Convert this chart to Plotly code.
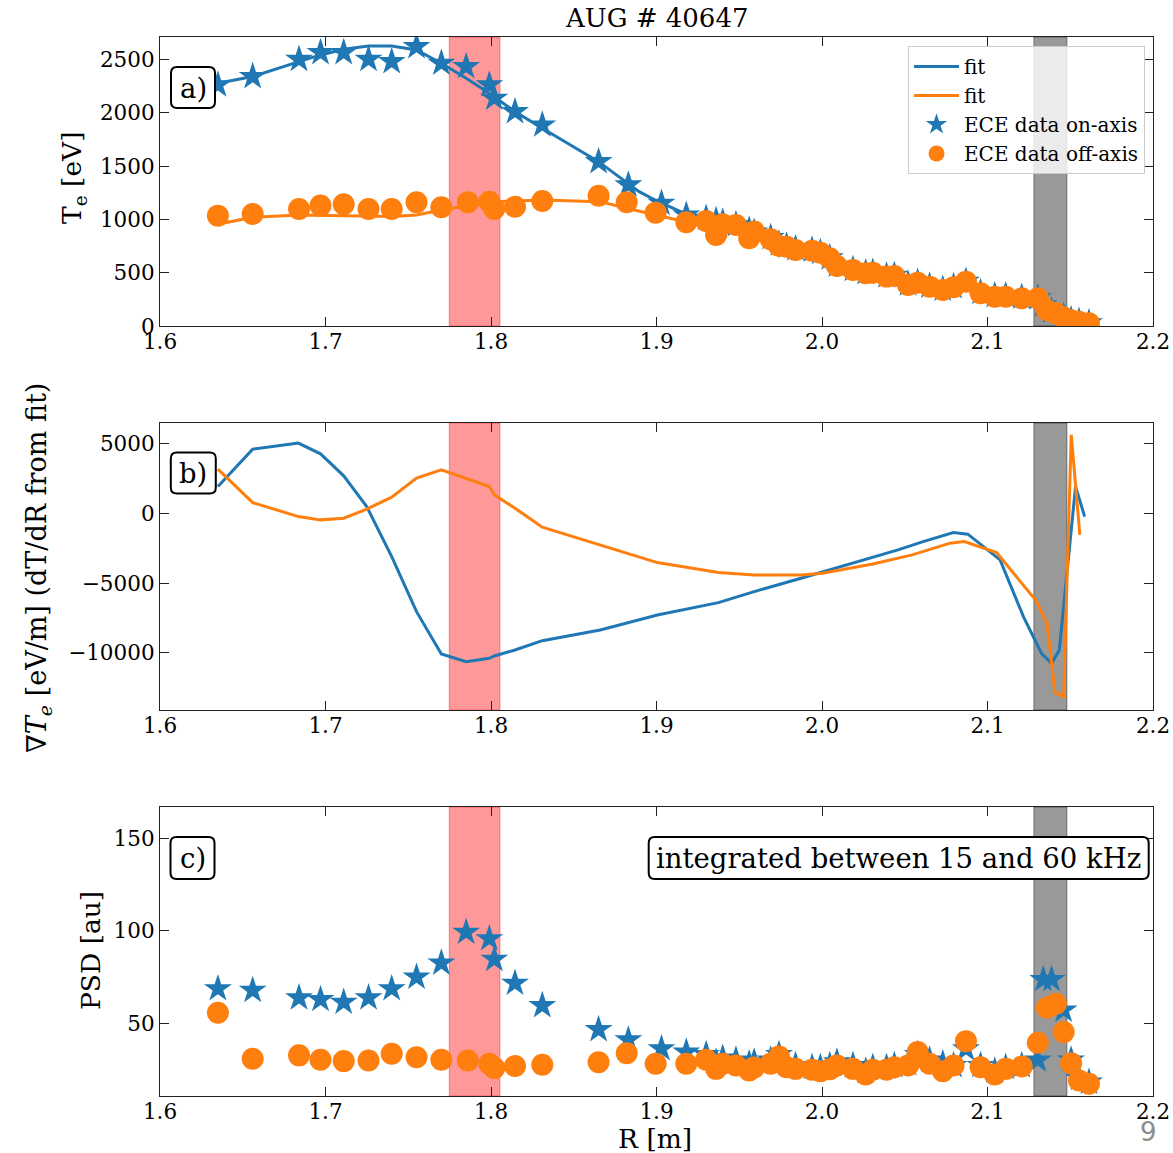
import plotly.graph_objects as go

# ---------------- data ----------------
# ECE on-axis channels (blue stars): R [m], Te [eV], PSD [au]
R_on = [1.635, 1.656, 1.684, 1.697, 1.711, 1.726, 1.740, 1.755, 1.770, 1.785,
        1.799, 1.802, 1.8145, 1.831, 1.865, 1.883, 1.903,
        1.918, 1.930, 1.936, 1.940, 1.948, 1.956, 1.959, 1.969, 1.974, 1.9786,
        1.984, 1.994, 1.999, 2.0047, 2.009, 2.0187, 2.0264, 2.0307, 2.039, 2.0437,
        2.052, 2.0578, 2.065, 2.073, 2.0795, 2.087, 2.0958, 2.1044, 2.111, 2.1207,
        2.1304, 2.1337, 2.1387, 2.1460, 2.1505, 2.1553, 2.1613]
Te_on = [2261, 2339, 2501, 2564, 2564, 2501, 2479, 2620, 2464, 2432,
         2261, 2136, 2010, 1885, 1541, 1323, 1151,
         1040, 1010, 990, 975, 950, 900, 880, 830, 770, 750,
         725, 712, 690, 640, 570, 530, 500, 505, 470, 475,
         395, 410, 375, 345, 370, 420, 315, 285, 285, 270,
         265, 200, 140, 90, 60, 45, 30]
PSD_on = [68.6, 67.7, 63.7, 62.8, 61.3, 63.7, 68.6, 74.9, 82.5, 99.2,
          95.7, 84.5, 71.6, 59.5, 46.5, 40.9, 36.1,
          34.3, 33, 29, 31, 30, 28, 29, 30, 33, 28,
          27, 26, 26, 27, 29, 27, 24, 26, 26, 27,
          28, 33, 30, 28, 27, 36, 27, 24, 26, 27,
          30, 73.6, 73.6, 57, 30, 20, 18]

# ECE off-axis channels (orange circles)
R_off = [1.635, 1.656, 1.684, 1.697, 1.711, 1.726, 1.740, 1.755, 1.770, 1.786,
         1.799, 1.802, 1.8145, 1.831, 1.865, 1.882, 1.8995, 1.918, 1.930, 1.936,
         1.940, 1.948, 1.956, 1.959, 1.969, 1.974, 1.9786, 1.984, 1.994, 1.999,
         2.0047, 2.009, 2.0187, 2.0264, 2.0307, 2.039, 2.0437, 2.052, 2.0578, 2.065,
         2.073, 2.0795, 2.087, 2.0958, 2.1044, 2.111, 2.1207, 2.1304, 2.1359, 2.1413,
         2.1460, 2.1505, 2.1553, 2.1613]
Te_off = [1035, 1051, 1097, 1129, 1141, 1097, 1097, 1160, 1113, 1160,
          1166, 1097, 1119, 1172, 1222, 1160, 1063, 973, 985, 854,
          954, 947, 823, 885, 813, 750, 744, 713, 706, 688,
          635, 563, 525, 494, 500, 463, 469, 385, 406, 369,
          338, 363, 416, 307, 275, 275, 260, 260, 150, 119,
          80, 55, 40, 25]
PSD_off = [55.6, 30.7, 32.5, 30.1, 29.4, 29.7, 33.4, 31.5, 30.1, 29.7,
           28.0, 25.6, 26.7, 27.4, 28.8, 33.7, 28.0, 28.0, 30.1, 25.2,
           28.0, 27.0, 24.3, 26.0, 28.0, 31.9, 26.1, 25.2, 24.7, 23.9,
           25.0, 27.0, 25.2, 22.2, 24.7, 24.7, 26.1, 27.0, 34.3, 28.0,
           23.9, 27.0, 40.2, 26.1, 22.2, 25.2, 26.5, 39.3, 58.3, 60.5,
           45.1, 28.3, 18.9, 17.1]

# fits of Te
R_fit_on = [1.635, 1.656, 1.684, 1.697, 1.711, 1.726, 1.740, 1.755, 1.770, 1.785,
            1.799, 1.8145, 1.831, 1.865, 1.8895, 1.9005, 1.925,
            1.937, 1.95, 1.96, 1.97, 1.98, 1.99, 2.0, 2.01, 2.02, 2.03, 2.04, 2.05,
            2.06, 2.07, 2.08, 2.09, 2.10, 2.11, 2.12, 2.13, 2.135, 2.14, 2.145,
            2.15, 2.155, 2.16, 2.165]
Te_fit_on = [2276, 2339, 2479, 2542, 2595, 2626, 2626, 2589, 2464, 2323,
             2183, 2010, 1854, 1541, 1260, 1170, 1000,
             940, 900, 860, 800, 740, 710, 680, 590, 530, 500, 475, 440,
             400, 360, 350, 330, 290, 270, 260, 240, 190, 130, 80,
             50, 35, 25, 10]
R_fit_off = [1.635, 1.656, 1.684, 1.711, 1.740, 1.755, 1.770, 1.785, 1.802, 1.831,
             1.866, 1.882, 1.8995, 1.918, 1.930,
             1.937, 1.95, 1.96, 1.97, 1.98, 1.99, 2.0, 2.01, 2.02, 2.03, 2.04, 2.05,
             2.06, 2.07, 2.08, 2.09, 2.10, 2.11, 2.12, 2.13, 2.135, 2.14, 2.145,
             2.15, 2.155, 2.16, 2.165]
Te_fit_off = [954, 1020, 1041, 1035, 1026, 1041, 1088, 1126, 1166, 1182,
              1166, 1104, 1041, 975, 960,
              930, 900, 860, 800, 740, 710, 680, 590, 530, 500, 475, 440,
              400, 360, 350, 330, 290, 270, 260, 240, 190, 130, 80,
              50, 35, 25, 10]

# gradients dTe/dR [eV/m]
R_grad_on = [1.635, 1.656, 1.6836, 1.697, 1.711, 1.7249, 1.740, 1.755, 1.770, 1.785,
             1.799, 1.802, 1.8145, 1.831, 1.866, 1.9005, 1.9374, 1.959, 1.9873, 2.0112,
             2.0307, 2.0459, 2.0611, 2.0794, 2.0881, 2.1076, 2.1217, 2.1326, 2.1387,
             2.1434, 2.1532, 2.1587]
G_on = [1940, 4625, 5057, 4289, 2708, 503, -3089, -7040, -10080, -10632,
        -10390, -10223, -9792, -9124, -8355, -7277, -6394, -5604, -4641, -3807,
        -3089, -2608, -2011, -1365, -1480, -3326, -7399, -10029, -10747,
        -9792, 1940, -216]
R_grad_off = [1.635, 1.656, 1.6836, 1.697, 1.711, 1.7249, 1.740, 1.755, 1.770, 1.785,
              1.799, 1.802, 1.8145, 1.831, 1.866, 1.9005, 1.9374, 1.959, 1.9873, 2.0002,
              2.0307, 2.0545, 2.0774, 2.0860, 2.1055, 2.1293, 2.1359, 2.1408, 2.1460,
              2.1506, 2.1558]
G_off = [3190, 790, -216, -453, -330, 316, 1178, 2543, 3139, 2543,
         1940, 1343, 388, -977, -2249, -3520, -4238, -4404, -4404, -4282,
         -3614, -2967, -2127, -2011, -2801, -6250, -7874, -12860, -13147,
         5654, -1530]

# shaded regions [R_min, R_max]
red_band = [1.7748, 1.8054]
gray_band = [2.128, 2.148]

# ticks
x_ticks = [1.6, 1.7, 1.8, 1.9, 2.0, 2.1, 2.2]
x_ticktext = ["1.6", "1.7", "1.8", "1.9", "2.0", "2.1", "2.2"]
ya_ticks = [0, 500, 1000, 1500, 2000, 2500]
yb_ticks = [-10000, -5000, 0, 5000]
yb_ticktext = ["\u221210000", "\u22125000", "0", "5000"]
yc_ticks = [50, 100, 150]

# ---------------- figure ----------------
W, H = 1173, 1153
BLUE, ORANGE = "#1f77b4", "#ff7f0e"
FONT = "DejaVu Serif"

def px(x):
    return x / W

def py(y):
    return 1 - y / H

fig = go.Figure()

# panel a
fig.add_trace(go.Scatter(x=R_fit_on, y=Te_fit_on, mode="lines", name="fit", legendgroup="g1",
                         line=dict(color=BLUE, width=3), xaxis="x", yaxis="y"))
fig.add_trace(go.Scatter(x=R_fit_off, y=Te_fit_off, mode="lines", name="fit", legendgroup="g2",
                         line=dict(color=ORANGE, width=3), xaxis="x", yaxis="y"))
fig.add_trace(go.Scatter(x=R_on, y=Te_on, mode="markers", name="ECE data on-axis",
                         legendgroup="g3",
                         marker=dict(symbol="star", size=21, color=BLUE, line=dict(width=0)),
                         xaxis="x", yaxis="y"))
fig.add_trace(go.Scatter(x=R_off, y=Te_off, mode="markers", name="ECE data off-axis",
                         legendgroup="g4",
                         marker=dict(symbol="circle", size=22, color=ORANGE, line=dict(width=0)),
                         xaxis="x", yaxis="y"))
# panel b
fig.add_trace(go.Scatter(x=R_grad_on, y=G_on, mode="lines", showlegend=False,
                         line=dict(color=BLUE, width=3), xaxis="x2", yaxis="y2"))
fig.add_trace(go.Scatter(x=R_grad_off, y=G_off, mode="lines", showlegend=False,
                         line=dict(color=ORANGE, width=3), xaxis="x2", yaxis="y2"))
# panel c
fig.add_trace(go.Scatter(x=R_on, y=PSD_on, mode="markers", showlegend=False,
                         marker=dict(symbol="star", size=21, color=BLUE, line=dict(width=0)),
                         xaxis="x3", yaxis="y3"))
fig.add_trace(go.Scatter(x=R_off, y=PSD_off, mode="markers", showlegend=False,
                         marker=dict(symbol="circle", size=22, color=ORANGE, line=dict(width=0)),
                         xaxis="x3", yaxis="y3"))

x_dom = [px(160), px(1153)]

axis_common = dict(
    showline=True, linecolor="#222222", linewidth=1.2, mirror="ticks",
    ticks="inside", ticklen=9, tickwidth=1.2, tickcolor="#222222",
    showgrid=False, zeroline=False, automargin=False,
    tickfont=dict(family=FONT, size=21.5, color="black"),
)

xa = dict(axis_common, domain=x_dom, range=[1.6, 2.2], tickvals=x_ticks,
          ticktext=x_ticktext, ticklabelstandoff=-4)
fig.update_layout(
    xaxis=dict(xa, anchor="y"),
    xaxis2=dict(xa, anchor="y2"),
    xaxis3=dict(xa, anchor="y3"),
    yaxis=dict(axis_common, anchor="x", domain=[py(326), py(37)], range=[0, 2710],
               tickvals=ya_ticks),
    yaxis2=dict(axis_common, anchor="x2", domain=[py(710), py(423)], range=[-14100, 6500],
                tickvals=yb_ticks, ticktext=yb_ticktext),
    yaxis3=dict(axis_common, anchor="x3", domain=[py(1096), py(807)], range=[10.5, 167],
                tickvals=yc_ticks),
)

# shaded bands
for xr, yr in (("x", "y"), ("x2", "y2"), ("x3", "y3")):
    for band, col in ((red_band, "rgba(255,0,0,0.4)"), (gray_band, "rgba(0,0,0,0.4)")):
        fig.add_shape(type="rect", xref=xr, yref=yr + " domain", x0=band[0], x1=band[1],
                      y0=0, y1=1, fillcolor=col, line=dict(color=col, width=1),
                      layer="below")

# rounded label boxes
def rounded_box(cx, cy, w, h, r=6):
    hw, hh = w / 2, h / 2
    path = (f"M {-hw + r},{-hh} L {hw - r},{-hh} Q {hw},{-hh} {hw},{-hh + r} "
            f"L {hw},{hh - r} Q {hw},{hh} {hw - r},{hh} L {-hw + r},{hh} "
            f"Q {-hw},{hh} {-hw},{hh - r} L {-hw},{-hh + r} Q {-hw},{-hh} {-hw + r},{-hh} Z")
    fig.add_shape(type="path", xref="paper", yref="paper", xsizemode="pixel",
                  ysizemode="pixel", xanchor=px(cx), yanchor=py(cy), path=path,
                  fillcolor="white", line=dict(color="black", width=2), layer="above")

boxes = [
    ("a)", 193, 87.5, 44, 41),
    ("b)", 193.3, 473, 45, 41),
    ("c)", 192.5, 858, 44, 42),
    ("integrated between 15 and 60 kHz", 898.7, 858, 500, 42),
]
annotations = []
for txt, cx, cy, w, h in boxes:
    rounded_box(cx, cy, w, h)
    annotations.append(dict(text=txt, x=px(cx), y=py(cy), xref="paper", yref="paper",
                            xanchor="center", yanchor="middle", showarrow=False,
                            font=dict(family=FONT, size=27.5, color="black")))

TITLE_SIZE = 26.5
annotations += [
    dict(text="AUG # 40647", x=px(656), y=py(18), xref="paper", yref="paper",
         showarrow=False, xanchor="center", yanchor="middle",
         font=dict(family=FONT, size=26, color="black")),
    dict(text="R [m]", x=px(655), y=py(1138), xref="paper", yref="paper",
         showarrow=False, xanchor="center", yanchor="middle",
         font=dict(family=FONT, size=TITLE_SIZE, color="black")),
    dict(text="T<sub>e</sub> [eV]", x=px(73), y=py(178), xref="paper", yref="paper",
         showarrow=False, textangle=-90, xanchor="center", yanchor="middle",
         font=dict(family=FONT, size=TITLE_SIZE, color="black")),
    dict(text="∇<i>T<sub>e</sub></i> [eV/m] (dT/dR from fit)", x=px(38), y=py(568),
         xref="paper", yref="paper", showarrow=False, textangle=-90,
         xanchor="center", yanchor="middle",
         font=dict(family=FONT, size=27, color="black")),
    dict(text="PSD [au]", x=px(90), y=py(951), xref="paper", yref="paper",
         showarrow=False, textangle=-90, xanchor="center", yanchor="middle",
         font=dict(family=FONT, size=TITLE_SIZE, color="black")),
    dict(text="9", x=px(1148), y=py(1132), xref="paper", yref="paper",
         showarrow=False, xanchor="center", yanchor="middle",
         font=dict(family="DejaVu Sans", size=26, color="#8c8c8c")),
]

fig.update_layout(
    width=W, height=H, autosize=False,
    margin=dict(l=0, r=0, t=0, b=0, pad=0, autoexpand=False),
    paper_bgcolor="white", plot_bgcolor="white",
    font=dict(family=FONT, color="black"),
    annotations=annotations,
    legend=dict(x=px(1145), y=py(46), xanchor="right", yanchor="top",
                bgcolor="rgba(255,255,255,0.8)", bordercolor="#cccccc", borderwidth=1,
                font=dict(family=FONT, size=20, color="black"),
                tracegroupgap=0, itemsizing="trace", itemwidth=45),
)

fig.write_html("out.html",
               config={"displayModeBar": False},
               post_script="document.body.style.margin='0px';"
                           "document.body.style.overflow='hidden';")
